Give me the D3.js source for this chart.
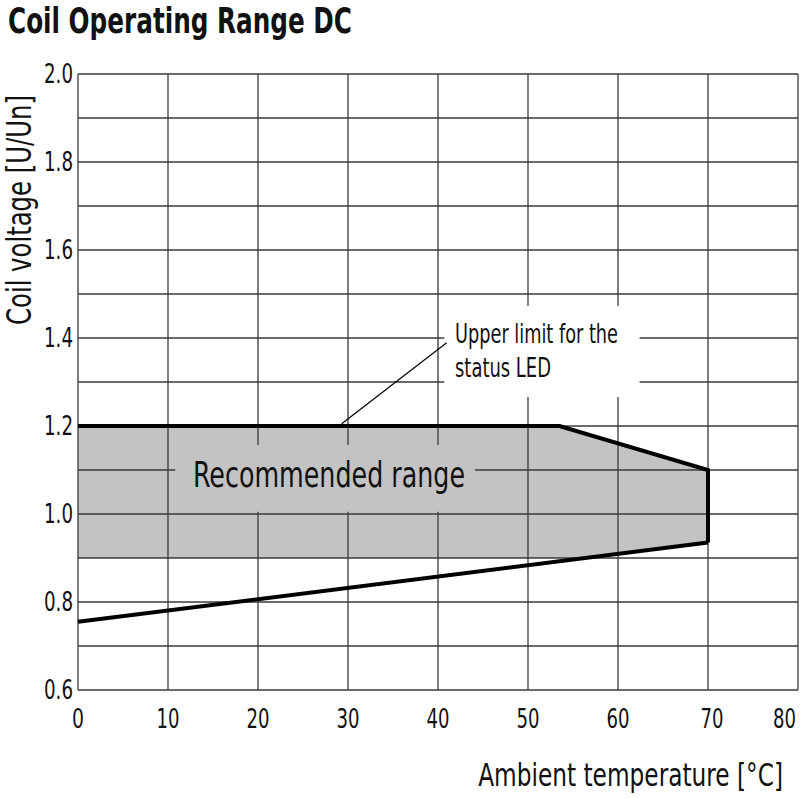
<!DOCTYPE html>
<html>
<head>
<meta charset="utf-8">
<script src="https://cdn.jsdelivr.net/npm/d3@7/dist/d3.min.js"></script>
<style>
  body { margin: 0; background: #fff; }
  text { font-family: "Liberation Sans Narrow", "DejaVu Sans Condensed", sans-serif; fill: #111; }
</style>
</head>
<body>
<script>
// ticks
const xTicks = [0, 10, 20, 30, 40, 50, 60, 70, 80];
const yTicks = [0.6, 0.8, 1.0, 1.2, 1.4, 1.6, 1.8, 2.0];
const yGrid = [0.6, 0.7, 0.8, 0.9, 1.0, 1.1, 1.2, 1.3, 1.4, 1.5, 1.6, 1.7, 1.8, 1.9, 2.0];

// recommended range (temperature, U/Un)
const rangeTemp = [0, 53.5, 70, 70, 55.5, 0];
const rangeVolt = [1.2, 1.2, 1.1, 0.935, 0.9, 0.9];

// upper limit line for the status LED
const upperTemp = [0, 53.5, 70, 70];
const upperVolt = [1.2, 1.2, 1.1, 0.935];

// lower limit line
const lowerTemp = [0, 70];
const lowerVolt = [0.755, 0.935];

const width = 800;
const height = 798;
const margin = { top: 74, right: 2, bottom: 108, left: 78 };

const x = d3.scaleLinear().domain([0, 80]).range([margin.left, width - margin.right]);
const y = d3.scaleLinear().domain([0.6, 2.0]).range([height - margin.bottom, margin.top]);

const svg = d3.select("body").append("svg")
  .attr("width", width)
  .attr("height", height);

// squeeze a text horizontally (around its anchor point) to a given width
function fitWidth(sel, px, py, target) {
  const w = sel.node().getComputedTextLength();
  sel.attr("x", 0).attr("y", 0)
    .attr("transform", `translate(${px},${py}) scale(${Math.min(1, target / w)},1)`);
}

// title
svg.append("text")
  .attr("x", 8)
  .attr("y", 33)
  .attr("font-size", 35)
  .attr("font-weight", "bold")
  .attr("textLength", 344)
  .attr("lengthAdjust", "spacingAndGlyphs")
  .text("Coil Operating Range DC");

// range fill
const zip = (xs, ys) => xs.map((t, i) => [t, ys[i]]);
svg.append("path")
  .datum(zip(rangeTemp, rangeVolt))
  .attr("fill", "#c3c3c3")
  .attr("d", d3.line().x(d => x(d[0])).y(d => y(d[1])).curve(d3.curveLinearClosed));

// grid
const grid = svg.append("g").attr("stroke", "#3a3a3a").attr("stroke-width", 1.3);
grid.selectAll("line.v")
  .data(xTicks)
  .enter()
    .append("line")
    .attr("x1", d => x(d)).attr("x2", d => x(d))
    .attr("y1", y(2.0)).attr("y2", y(0.6));
grid.selectAll("line.h")
  .data(yGrid)
  .enter()
    .append("line")
    .attr("x1", x(0)).attr("x2", x(80))
    .attr("y1", d => y(d)).attr("y2", d => y(d));

// label boxes that hide the grid
svg.append("rect")
  .attr("x", x(10.8)).attr("y", y(1.157))
  .attr("width", x(44.1) - x(10.8)).attr("height", y(1.005) - y(1.157))
  .attr("fill", "#c3c3c3");
svg.append("rect")
  .attr("x", x(40.7)).attr("y", y(1.473))
  .attr("width", x(62.4) - x(40.7)).attr("height", y(1.266) - y(1.473))
  .attr("fill", "#fff");

// limit lines
const line = d3.line().x(d => x(d[0])).y(d => y(d[1]));
svg.append("path")
  .datum(zip(upperTemp, upperVolt))
  .attr("fill", "none").attr("stroke", "#000").attr("stroke-width", 4)
  .attr("stroke-linejoin", "miter")
  .attr("d", line);
svg.append("path")
  .datum(zip(lowerTemp, lowerVolt))
  .attr("fill", "none").attr("stroke", "#000").attr("stroke-width", 4)
  .attr("d", line);

// leader line
svg.append("line")
  .attr("x1", x(40.96)).attr("y1", y(1.389))
  .attr("x2", x(29.3)).attr("y2", y(1.205))
  .attr("stroke", "#000").attr("stroke-width", 1.2);

// annotations
svg.append("text")
  .attr("x", 455).attr("y", 343)
  .attr("font-size", 27)
  .attr("textLength", 163).attr("lengthAdjust", "spacingAndGlyphs")
  .text("Upper limit for the");
svg.append("text")
  .attr("x", 455).attr("y", 377)
  .attr("font-size", 27)
  .attr("textLength", 96).attr("lengthAdjust", "spacingAndGlyphs")
  .text("status LED");
svg.append("text")
  .attr("x", 193).attr("y", 487)
  .attr("font-size", 35)
  .attr("textLength", 272).attr("lengthAdjust", "spacingAndGlyphs")
  .text("Recommended range");

// axes labels
svg.selectAll("text.ytick")
  .data(yTicks)
  .enter()
    .append("text")
    .attr("x", 73)
    .attr("y", d => y(d))
    .attr("dy", "0.36em")
    .attr("text-anchor", "end")
    .attr("font-size", 26)
    .attr("textLength", 29).attr("lengthAdjust", "spacingAndGlyphs")
    .text(d => d.toFixed(1));

// last tick sits flush with the right edge, like the original
const xLabels = svg.selectAll("text.xtick")
  .data(xTicks)
  .enter()
    .append("text")
    .attr("y", 728)
    .attr("font-size", 26)
    .text(d => d);
xLabels.filter(d => d !== 80)
  .attr("x", d => x(d) + (d === 70 ? 4 : 0))
  .attr("text-anchor", "middle")
  .attr("textLength", d => d === 0 ? 12 : 23).attr("lengthAdjust", "spacingAndGlyphs");
xLabels.filter(d => d === 80)
  .attr("text-anchor", "end")
  .call(fitWidth, x(80) - 2, 728, 23);

svg.append("text")
  .attr("transform", "translate(31, 325) rotate(-90)")
  .attr("font-size", 33)
  .attr("textLength", 230).attr("lengthAdjust", "spacingAndGlyphs")
  .text("Coil voltage [U/Un]");

svg.append("text")
  .attr("text-anchor", "end")
  .attr("font-size", 32)
  .text("Ambient temperature [°C]")
  .call(fitWidth, 783, 786, 305);
</script>
</body>
</html>
